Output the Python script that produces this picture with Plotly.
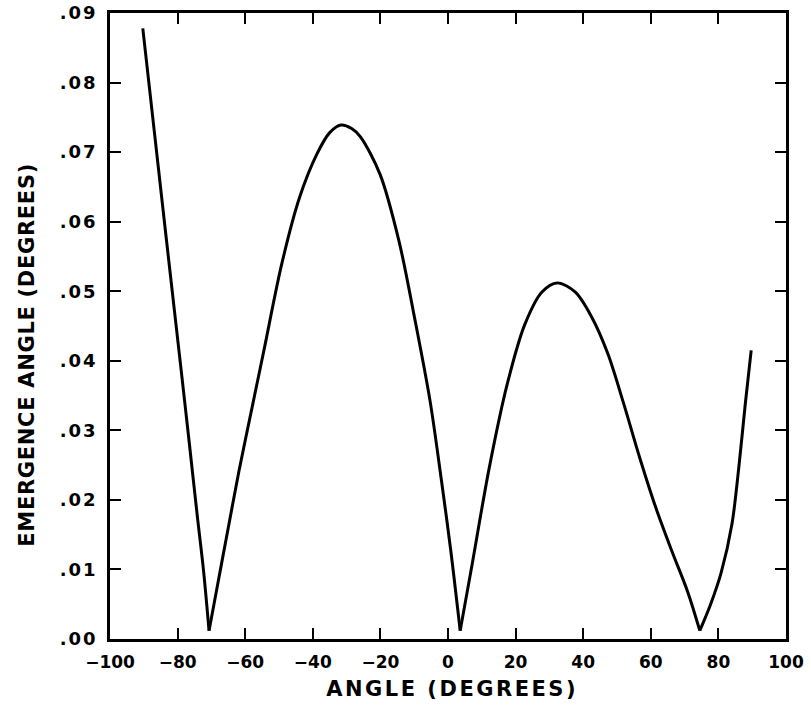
import plotly.graph_objects as go

# Curve (angle in degrees, emergence angle in degrees)
angle = [-90.3, -88.0, -85.7, -83.4, -81.1, -78.8, -76.5, -74.2, -72.3, -70.7,
         -68.4, -65.2, -61.9, -59.8, -54.5, -49.2, -43.9, -38.8, -35.0, -31.7, -28.5,
         -25.9, -20.1, -14.5, -9.9, -5.3, -2.0, 0.8, 3.6,
         6.8, 12.2, 17.5, 22.7, 27.8, 32.3, 37.6, 42.5, 47.3, 52.0, 56.7, 61.4,
         66.1, 70.9, 74.5, 77.7, 80.8, 84.0, 86.0, 88.0, 89.7]
emergence = [0.0878, 0.0778, 0.0678, 0.0578, 0.0479, 0.0380, 0.0280, 0.0178, 0.0097, 0.0012,
             0.0072, 0.0155, 0.0240, 0.0290, 0.0414, 0.0539, 0.0635, 0.0697, 0.0728, 0.0739, 0.0734,
             0.0722, 0.0668, 0.0572, 0.0462, 0.0342, 0.0230, 0.0128, 0.0012,
             0.0098, 0.0246, 0.0366, 0.0452, 0.0499, 0.0512, 0.0499, 0.0463, 0.0410, 0.0338, 0.0261, 0.0190,
             0.0128, 0.0068, 0.0012, 0.0050, 0.0095, 0.0165, 0.0245, 0.0340, 0.0415]

x_ticks = [-100, -80, -60, -40, -20, 0, 20, 40, 60, 80, 100]
y_ticks = [0.00, 0.01, 0.02, 0.03, 0.04, 0.05, 0.06, 0.07, 0.08, 0.09]
y_tick_text = [".00", ".01", ".02", ".03", ".04", ".05", ".06", ".07", ".08", ".09"]

x_title = "ANGLE (DEGREES)"
y_title = "EMERGENCE ANGLE (DEGREES)"

FONT = "DejaVu Sans, Arial, sans-serif"

fig = go.Figure()
# the curve is drawn piecewise between its sharp minima so the smoothing keeps the V tips sharp
tips = [i for i in range(1, len(emergence) - 1)
        if emergence[i] < emergence[i - 1] and emergence[i] < emergence[i + 1]]
bounds = [0] + tips + [len(angle) - 1]
for a, b in zip(bounds[:-1], bounds[1:]):
    fig.add_trace(go.Scatter(
        x=angle[a:b + 1], y=emergence[a:b + 1], mode="lines",
        line=dict(color="black", width=3, shape="spline", smoothing=0.9),
        showlegend=False, hoverinfo="skip",
    ))

axis_common = dict(
    showline=True, linecolor="black", linewidth=2.5, mirror="ticks",
    ticks="inside", ticklen=11, tickwidth=2, tickcolor="black",
    showgrid=False, zeroline=False, automargin=False,
)

fig.update_xaxes(
    range=[-100, 100], tickvals=x_ticks, ticklabelstandoff=6,
    tickfont=dict(family=FONT, size=17, color="black", weight="bold"),
    **axis_common,
)
fig.update_yaxes(
    range=[0, 0.09], tickvals=y_ticks, ticktext=y_tick_text, ticklabelstandoff=6,
    tickfont=dict(family=FONT, size=18, color="black", weight="bold"),
    **axis_common,
)

L, R, T, B = 110, 25, 13, 71
W, H = 811, 710
pw, ph = W - L - R, H - T - B

fig.add_annotation(
    text=x_title, xref="paper", yref="paper",
    x=(452 - L) / pw, y=(H - B - 689) / ph, xanchor="center", yanchor="middle",
    showarrow=False, font=dict(family=FONT, size=21, color="black", weight="bold"),
)
fig.add_annotation(
    text=y_title, xref="paper", yref="paper", textangle=-90,
    x=(27 - L) / pw, y=(H - B - 355) / ph, xanchor="center", yanchor="middle",
    showarrow=False, font=dict(family=FONT, size=21, color="black", weight="bold"),
)

fig.update_layout(
    width=W, height=H,
    margin=dict(l=L, r=R, t=T, b=B),
    paper_bgcolor="white", plot_bgcolor="white",
)

post = """
var ann = document.querySelectorAll('.annotation-text');
ann.forEach(function(e){
  if (e.textContent.indexOf('EMERGENCE') === 0) { e.style.letterSpacing = '0.7px'; }
  else { e.style.letterSpacing = '2.5px'; }
});
document.querySelectorAll('.ytick text').forEach(function(e){ e.style.letterSpacing = '2px'; });
"""

fig.write_html("out.html", post_script=post)
